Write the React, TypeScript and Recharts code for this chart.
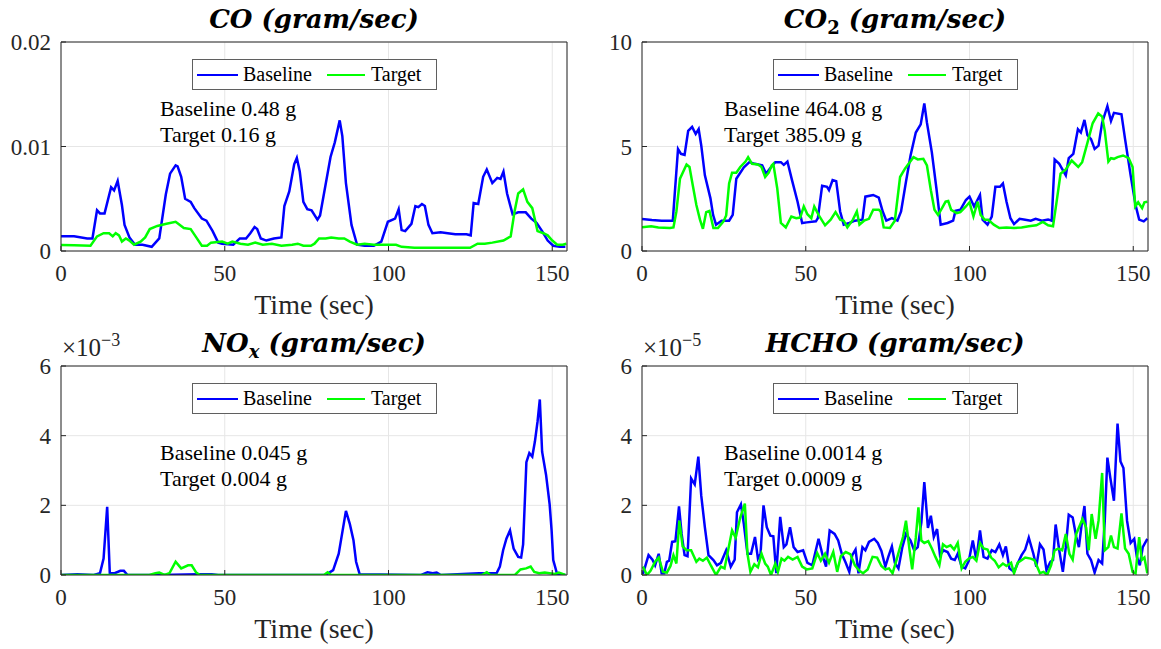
import React from 'react';
import { LineChart, Line, XAxis, YAxis, CartesianGrid, Legend } from 'recharts';

type Pt = [number, number];

// ---------- shared axis data ----------
const timeTicks = [0, 50, 100, 150];
const timeDomain: [number, number] = [0, 154.5];

const coTicks = [0, 0.01, 0.02];
const co2Ticks = [0, 5, 10];
const noxTicks = [0, 2, 4, 6]; // x 10^-3
const hchoTicks = [0, 2, 4, 6]; // x 10^-5

const seriesNames = ['Baseline', 'Target'];

// ---------- CO (gram/sec) ----------
const coBaseline: Pt[] = [
  [0, 0.0014], [4, 0.0014], [8, 0.0012], [9.6, 0.0012], [11, 0.0039], [11.9, 0.0036], [13.3, 0.0036],
  [15.3, 0.0061], [16.2, 0.0058], [17.3, 0.0067], [18.6, 0.0044], [19.4, 0.0025], [20.9, 0.0013],
  [22.6, 0.0006], [24.9, 0.0006], [27.7, 0.0004], [30, 0.0012], [32, 0.0054], [33.3, 0.0074],
  [35, 0.0082], [35.6, 0.0081], [36.7, 0.0071], [37.9, 0.005], [39.6, 0.0047], [40.7, 0.0041],
  [43, 0.0031], [44.4, 0.0029], [46.3, 0.0019], [48, 0.0008], [49.2, 0.0007], [52.6, 0.0006],
  [54.6, 0.0012], [56.5, 0.0012], [57.8, 0.0017], [59.1, 0.0023], [59.9, 0.0021], [61, 0.0012],
  [62.7, 0.001], [65, 0.0012], [67.3, 0.0013], [68.2, 0.0043], [69.7, 0.0057], [71.2, 0.0083],
  [72, 0.0089], [72.9, 0.0076], [74, 0.0047], [75.2, 0.004], [76.5, 0.0039], [78.3, 0.003],
  [79.1, 0.0034], [80.3, 0.0055], [82.3, 0.009], [83.6, 0.0104], [85.1, 0.0125], [85.9, 0.011],
  [87, 0.0065], [88.7, 0.0025], [90.4, 0.0006], [92.7, 0.0005], [95.5, 0.0005], [97.8, 0.0009],
  [99.8, 0.0028], [102, 0.0031], [103.1, 0.004], [104, 0.002], [105.1, 0.0019], [107, 0.0026],
  [108.2, 0.0043], [109.1, 0.0042], [110.2, 0.0045], [111.1, 0.0043], [112.2, 0.0025], [113.4, 0.0017],
  [115.9, 0.0018], [118.1, 0.0017], [120.4, 0.0016], [123.8, 0.0016], [125.1, 0.0015], [126, 0.0046],
  [127.4, 0.0045], [128.9, 0.0071], [130, 0.0078], [131.7, 0.0065], [133.2, 0.007], [134.2, 0.0069],
  [135.1, 0.0076], [136.2, 0.0055], [137.9, 0.0035], [139.6, 0.0037], [141.9, 0.0037], [143.6, 0.0031],
  [145.2, 0.0027], [146.9, 0.0019], [148.6, 0.001], [150.3, 0.0005], [152.3, 0.0004], [154, 0.0004],
];
const coTarget: Pt[] = [
  [0, 0.00057], [4, 0.00055], [9, 0.0005], [11, 0.0014], [13, 0.0017], [14.7, 0.0017], [15.8, 0.0014],
  [16.7, 0.0017], [17.7, 0.0015], [18.6, 0.0009], [19.8, 0.0012], [20.9, 0.001], [22.3, 0.0006],
  [24.3, 0.0009], [25.7, 0.0013], [27.1, 0.0021], [29.4, 0.0024], [32.2, 0.0026], [35, 0.0028],
  [35.8, 0.0026], [37.5, 0.0022], [39.6, 0.0021], [41.3, 0.0013], [43, 0.0005], [44.6, 0.0005],
  [45.8, 0.0008], [49.2, 0.0009], [50.9, 0.0007], [52.3, 0.0009], [54.8, 0.0007], [57.1, 0.0006],
  [59.3, 0.0008], [61.6, 0.0006], [64.4, 0.0007], [67.3, 0.0005], [70.6, 0.0006], [72.3, 0.0007],
  [74, 0.0005], [76.3, 0.0005], [77.4, 0.0007], [78.8, 0.0012], [80.8, 0.0012], [82.5, 0.0013],
  [84.8, 0.0012], [86.5, 0.0012], [88.2, 0.0009], [90.4, 0.0006], [92.7, 0.0007], [95.5, 0.0006],
  [98.9, 0.0006], [101.2, 0.0006], [102.3, 0.0006], [104, 0.0004], [107.9, 0.0003], [113.6, 0.0003],
  [119.3, 0.0003], [124.9, 0.0003], [127.2, 0.0007], [129.4, 0.0007], [131.7, 0.0008], [135.1, 0.001],
  [137.3, 0.0014], [138.5, 0.0038], [139.6, 0.0055], [141.1, 0.0059], [142.4, 0.0047], [143.9, 0.0041],
  [145.5, 0.0019], [147.3, 0.0017], [148.6, 0.0015], [150, 0.001], [151.5, 0.0006], [153.2, 0.0006],
  [154.3, 0.0007],
];

// ---------- CO2 (gram/sec) ----------
const co2Baseline: Pt[] = [
  [0, 1.53], [3, 1.48], [6, 1.45], [9.4, 1.45], [11, 4.88], [11.9, 4.65], [13, 4.6], [14.1, 5.75],
  [15.3, 5.94], [16.4, 5.6], [17.3, 5.83], [18.1, 5.04], [19.2, 3.62], [20.9, 2.52], [21.7, 1.73],
  [22.6, 1.26], [24.3, 1.45], [26.6, 1.45], [27.7, 1.73], [28.8, 3.46], [31.1, 4.0], [32.8, 4.25],
  [34.5, 4.17], [36.7, 4.1], [37.9, 3.7], [39, 3.94], [40.7, 4.25], [42.4, 4.25], [43.3, 4.12],
  [44.4, 4.28], [45.8, 3.39], [47.5, 2.36], [48.9, 1.34], [50.3, 1.37], [53.1, 1.42], [53.7, 1.57],
  [55, 3.12], [56.5, 3.07], [57.1, 2.91], [58.2, 3.39], [59.3, 3.34], [60.5, 1.89], [61.6, 1.26],
  [63.3, 1.34], [65, 1.45], [67.3, 1.5], [68.2, 2.6], [70.6, 2.68], [72.3, 2.55], [73.5, 1.89],
  [74.6, 1.45], [76.3, 1.57], [78, 1.45], [79.1, 1.89], [80.6, 3.31], [82, 4.57], [83.6, 5.67],
  [85.1, 6.06], [86.2, 7.06], [87, 6.14], [88.5, 4.72], [89.9, 2.99], [91.2, 1.26], [93.3, 1.34],
  [95, 1.45], [95.7, 1.92], [97.2, 1.97], [98.9, 2.44], [100, 2.6], [101.4, 2.13], [103.2, 2.68],
  [104, 1.5], [105.5, 1.26], [106.8, 1.65], [107.9, 3.07], [109.3, 3.07], [110.2, 3.23], [111.3, 2.36],
  [112.5, 1.57], [113.6, 1.29], [115.3, 1.54], [117, 1.5], [118.7, 1.45], [120.2, 1.54], [122.1, 1.45],
  [124, 1.51], [125.1, 1.45], [126, 4.38], [127.4, 4.17], [129.4, 3.62], [130.3, 4.44], [131.7, 4.65],
  [133.1, 5.83], [134, 5.67], [135.1, 6.27], [136, 5.54], [137.1, 5.35], [138.2, 4.88], [139.4, 5.04],
  [140.5, 6.14], [142.1, 6.93], [143.2, 6.22], [144.1, 6.61], [146.4, 6.54], [147.5, 5.35], [149.2, 3.62],
  [150.7, 2.2], [151.8, 1.5], [153.2, 1.42], [154.3, 1.57],
];
const co2Target: Pt[] = [
  [0, 1.13], [2.8, 1.18], [5, 1.13], [8.5, 1.1], [9.6, 1.13], [10.5, 1.89], [11.6, 3.46], [13.6, 4.14],
  [14.5, 4.02], [15.5, 3.15], [16.6, 2.2], [17.7, 1.5], [18.6, 1.06], [19.6, 1.86], [20.6, 1.92],
  [21.8, 1.1], [23.2, 1.1], [24.9, 1.42], [25.7, 1.7], [26.6, 3.23], [27.5, 3.75], [28.8, 3.75],
  [30, 4.02], [31.6, 4.28], [32.4, 4.49], [33.6, 4.17], [35.4, 4.14], [36.5, 4.02], [37.6, 3.54],
  [38.7, 3.75], [39.6, 4.09], [40.1, 4.17], [41.3, 2.99], [42.4, 1.34], [43.9, 1.13], [45.6, 1.65],
  [47.1, 1.57], [48.3, 1.6], [49.4, 2.13], [50.5, 1.76], [51.7, 1.57], [52.6, 2.13], [53.9, 1.73],
  [55.9, 1.23], [57.6, 1.5], [59.1, 1.86], [60.5, 1.5], [61.6, 1.45], [62.7, 1.13], [64.4, 1.5],
  [65.6, 1.89], [66.4, 1.26], [67.8, 1.45], [69.3, 1.54], [70.6, 1.97], [72.3, 1.97], [72.9, 1.89],
  [73.8, 1.13], [75.7, 1.1], [77.2, 1.45], [78.8, 3.54], [80.3, 3.94], [81.4, 4.17], [82.9, 4.49],
  [84.2, 4.38], [85.9, 4.41], [87, 4.09], [88.2, 2.91], [89.3, 1.97], [90.4, 1.73], [91.6, 2.05],
  [92.7, 2.36], [93.5, 2.39], [94.4, 1.97], [96.1, 1.81], [97.2, 1.86], [98.9, 2.13], [100, 2.33],
  [101.2, 1.65], [102.5, 2.36], [103.4, 1.73], [104.6, 1.5], [105.7, 1.5], [107.4, 1.26], [109.1, 1.1],
  [111.3, 1.13], [113.6, 1.1], [115.9, 1.13], [118.1, 1.18], [120.4, 1.23], [122.4, 1.39], [124, 1.23],
  [125.5, 1.18], [126.6, 2.36], [127.8, 3.7], [129.4, 3.9], [131.2, 4.33], [133.2, 4.02], [134.4, 4.25],
  [136, 5.17], [137.6, 6.11], [139.3, 6.58], [140.5, 6.43], [141.3, 5.75], [142.4, 4.28], [143.2, 4.44],
  [144.1, 4.41], [145.2, 4.49], [146.9, 4.57], [148.6, 4.44], [149.8, 4.02], [150.6, 2.13], [151.5, 2.33],
  [152.7, 2.05], [153.4, 2.33], [154.3, 2.36],
];

// ---------- NOx (gram/sec), in units of 1e-3 ----------
const noxBaseline: Pt[] = [
  [0, 0], [5, 0.02], [10, 0], [11.9, 0.05], [13, 0.47], [14.1, 1.96], [14.9, 0.05], [16.4, 0.05],
  [18.1, 0.12], [19.2, 0.12], [20.3, 0], [30, 0], [42, 0.02], [46, 0.02], [48, 0], [80.8, 0],
  [83.1, 0.14], [84.8, 0.61], [87, 1.84], [88.2, 1.46], [89.3, 1.0], [90.1, 0.38], [91.2, 0.02],
  [110, 0], [111.9, 0.08], [113.5, 0.05], [114.7, 0.07], [116, 0], [127.7, 0.05], [133, 0.05],
  [134, 0.24], [135, 0.71], [136, 1.04], [137.1, 1.28], [138.2, 0.76], [139.6, 0.52], [140.5, 0.5],
  [141.1, 0.88], [142.1, 3.24], [143, 3.5], [143.9, 3.4], [144.7, 3.83], [145.5, 4.4], [146.2, 5.04],
  [146.9, 3.54], [148.1, 2.88], [149.2, 2.03], [149.8, 1.28], [150.3, 0.43], [151.5, 0.02], [154, 0],
];
const noxTarget: Pt[] = [
  [0, 0], [27, 0], [28.8, 0.05], [30, 0.07], [31.6, 0], [33.1, 0.05], [35, 0.38], [36.7, 0.19],
  [38.8, 0.28], [39.9, 0.28], [41.3, 0.07], [42.4, 0], [80.3, 0], [81.4, 0.08], [82.5, 0], [128.5, 0],
  [130, 0.08], [131.1, 0], [138.6, 0], [140.3, 0.16], [142, 0.19], [143.4, 0.24], [144.5, 0.09],
  [146, 0.05], [147.7, 0.07], [149.2, 0.05], [150.9, 0.03], [152, 0.07], [154, 0],
];

// ---------- HCHO (gram/sec), in units of 1e-5 ----------
const hchoBaseline: Pt[] = [
  [0.3, 0.03], [2, 0.57], [3.2, 0.44], [4, 0.28], [5.1, 0.61], [6, 0.05], [6.8, 0.05], [7.6, 0.38],
  [8.3, 0.41], [9.2, 0.95], [10.2, 0.97], [11.3, 1.97], [12.1, 1.18], [13, 0.57], [13.9, 0.54],
  [15, 2.77], [16.1, 2.6], [17.2, 3.4], [18.1, 2.27], [19.2, 1.37], [20.3, 0.57], [21.8, 0.43],
  [22.9, 0.28], [24.1, 0.35], [25.7, 0.71], [27.1, 0.24], [28.3, 0.44], [29, 1.8], [30.2, 2.03],
  [31.1, 1.46], [32.2, 0.61], [33.3, 0.61], [34.5, 1.09], [35.4, 0.47], [36.2, 0.61], [37.1, 2.0],
  [38.1, 1.37], [39.2, 1.13], [40.1, 1.11], [41, 0.05], [42.2, 1.67], [43.3, 0.8], [44.1, 0.88],
  [45.2, 1.37], [46.3, 0.8], [47.5, 0.66], [49.2, 0.71], [50.5, 0.35], [52, 0.28], [53.9, 1.04],
  [55.4, 0.47], [56.2, 0.24], [57.3, 1.28], [58.8, 1.18], [59.9, 0.99], [61, 0.61], [62.2, 0.35],
  [63.3, 0.09], [64.2, 0.57], [65.2, 0.73], [66.1, 0.05], [67.3, 0.8], [68.2, 0.71], [69.3, 0.95],
  [70.9, 1.04], [72, 0.92], [73.1, 0.69], [74.3, 0.24], [75.2, 0.52], [76.3, 0.82], [77.2, 0.35],
  [78.3, 0.19], [79.5, 0.8], [80.6, 1.18], [82, 0.99], [83.1, 0.71], [84.2, 0.8], [85.3, 1.51],
  [86.2, 2.67], [87.3, 1.35], [88.2, 1.7], [89.1, 1.09], [90.1, 1.32], [91, 0.57], [92.1, 0.71],
  [93.3, 0.66], [94.4, 0.47], [95.5, 0.43], [96.4, 0.61], [97.6, 0.24], [98.7, 0.19], [99.8, 0.41],
  [101, 0.99], [102.1, 0.43], [103.2, 1.28], [104.3, 0.52], [105.5, 0.47], [106.8, 0.71], [107.9, 0.66],
  [109.1, 0.88], [110.2, 0.57], [111.1, 0.82], [112.2, 0.19], [113.6, 0.09], [114.7, 0.33], [115.9, 0.57],
  [117, 0.73], [118.1, 1.07], [119.5, 0.61], [120.4, 0.24], [121.5, 0.88], [122.6, 0.73], [123.5, 0.14],
  [124.7, 0.38], [125.5, 0.43], [126.3, 1.45], [127.4, 0.71], [128.5, 0.09], [129.4, 0.8], [130.3, 1.73],
  [131.5, 1.65], [132.6, 1.09], [133.4, 0.8], [134.2, 1.42], [135.1, 1.98], [136, 0.61], [137.1, 0.43],
  [138.2, 0.07], [139.4, 0.43], [140.5, 0.33], [141.3, 1.56], [142.1, 3.37], [143, 2.79], [144.1, 2.13],
  [145.2, 4.35], [146.1, 3.26], [147, 3.07], [148.1, 1.56], [149.2, 0.92], [150.3, 1.04], [151.1, 0.52],
  [152, 0.28], [152.9, 0.8], [154.3, 1.04],
];
const hchoTarget: Pt[] = [
  [0.3, 0.24], [1.5, 0], [2.6, 0.12], [4, 0.38], [5.1, 0.5], [6.4, 0.09], [7.6, 0.07], [8.7, 0.26],
  [9.6, 0.57], [10.5, 0.33], [11.4, 1.56], [12.4, 0.82], [13.6, 0.71], [15, 0.71], [16.6, 0.38],
  [17.5, 0.47], [18.6, 0.41], [19.8, 0.5], [21.1, 0.26], [22.6, 0], [24.1, 0.24], [25.2, 0.19],
  [26.3, 0.71], [27.5, 1.28], [28.6, 1.07], [30, 1.65], [31.4, 2.05], [32.2, 0.61], [33.1, 0.09],
  [34.3, 0.31], [35.4, 0.22], [36.5, 0.61], [37.6, 0.33], [38.4, 0.24], [39.4, 0], [40.7, 0.33],
  [41.5, 0.09], [42.6, 0.47], [43.5, 0.41], [44.6, 0.52], [46, 0.44], [47.5, 0.52], [48.9, 0.24],
  [50.3, 0.16], [52, 0.19], [53.5, 0.63], [54.6, 0.41], [55.9, 0.61], [57.1, 0.35], [58.4, 0.66],
  [59.6, 0.09], [60.7, 0.54], [62.2, 0.66], [63.6, 0.6], [65, 0.28], [66.4, 0.12], [67.5, 0.05],
  [68.9, 0.16], [70.4, 0.52], [71.8, 0.5], [73.1, 0.26], [74.3, 0.16], [75.4, 0.19], [76.5, 0.05],
  [77.7, 0.43], [78.8, 0.8], [79.7, 1.09], [80.6, 1.56], [81.7, 0.71], [82.5, 0.16], [83.6, 1.07],
  [84.4, 1.94], [85.3, 0.99], [86.2, 0.92], [87.4, 0.97], [88.5, 0.76], [89.6, 0.52], [90.8, 0.28],
  [91.9, 0.88], [93, 0.8], [94.2, 0.85], [95.3, 0.73], [96.4, 0.92], [97.6, 0.19], [98.7, 0.38],
  [99.8, 0.47], [101, 0.52], [102.1, 0.41], [103.2, 0.92], [104.3, 0.76], [105.5, 0.73], [106.6, 0.5],
  [107.7, 0.41], [108.9, 0.22], [110.2, 0.33], [111.3, 0.26], [112.7, 0.35], [113.6, 0.05], [114.7, 0.35],
  [116.1, 0.44], [117, 0.5], [118.7, 0.47], [119.8, 0.43], [121.5, 0.05], [122.6, 0.09], [123.7, 0],
  [124.9, 0.28], [126, 0.71], [127.1, 0.76], [128.3, 0.71], [129.4, 1.18], [130.5, 0.61], [131.5, 0.44],
  [132.6, 1.18], [134.5, 1.61], [135.6, 1.37], [136.4, 0.71], [137.3, 1.75], [138.5, 1.04], [139.4, 1.56],
  [140.5, 2.93], [141.3, 0.71], [142.4, 0.8], [143.2, 1.13], [144.1, 0.8], [145.2, 0.76], [146.4, 1.77],
  [147.5, 0.76], [148.6, 0.61], [149.8, 0.09], [150.7, 0.05], [151.8, 1.09], [152.6, 0.43], [153.4, 0.5],
  [154.3, 0.05],
];

// ---------- styling ----------
const AXIS = '#262626';
const SERIF = '"Liberation Serif", "Times New Roman", serif';
const TITLE_FONT = '"DejaVu Serif", serif';
const BLUE = '#0000ff';
const GREEN = '#00ff00';

const toRows = (pts: Pt[]) => pts.map(([t, v]) => ({ t, v }));

function LegendBox() {
  const line = (color: string, width: number, ml: number, mr: number) => (
    <span
      style={{
        display: 'inline-block',
        width,
        height: 0,
        borderTop: `2.6px solid ${color}`,
        marginLeft: ml,
        marginRight: mr,
      }}
    />
  );
  return (
    <div
      style={{
        boxSizing: 'border-box',
        width: 245,
        height: 31,
        border: '1px solid #5f5f5f',
        background: '#ffffff',
        display: 'flex',
        alignItems: 'center',
        fontFamily: SERIF,
        fontSize: 20,
        color: '#000',
        whiteSpace: 'nowrap',
      }}
    >
      {line(BLUE, 41, 4, 5)}
      <span style={{ display: 'inline-block', width: 84 }}>{seriesNames[0]}</span>
      {line(GREEN, 38, 0, 6)}
      <span>{seriesNames[1]}</span>
    </div>
  );
}

type PanelProps = {
  left: number;
  top: number;
  base: Pt[];
  target: Pt[];
  yDomain: [number, number];
  yTicks: number[];
  title: React.ReactNode;
  exponent?: string;
  notes: string[];
  noteX: number;
  noteY: number;
};

function Panel({ left, top, base, target, yDomain, yTicks, title, exponent, notes, noteX, noteY }: PanelProps) {
  const tickStyle = { fontSize: 23, fill: AXIS, fontFamily: SERIF };
  return (
    <div style={{ position: 'absolute', left, top }}>
      <LineChart width={580} height={320} margin={{ top: 41, right: 12, bottom: 0, left: 11 }}>
        <CartesianGrid stroke="#e6e6e6" strokeWidth={1} xAxisId="b" yAxisId="l" />
        <XAxis
          xAxisId="b"
          dataKey="t"
          type="number"
          domain={timeDomain}
          ticks={timeTicks}
          interval={0}
          allowDataOverflow
          height={69}
          stroke={AXIS}
          tickSize={-5}
          tickMargin={19}
          tick={tickStyle}
        />
        <XAxis
          xAxisId="t"
          orientation="top"
          dataKey="t"
          type="number"
          domain={timeDomain}
          ticks={timeTicks}
          interval={0}
          allowDataOverflow
          height={1}
          stroke={AXIS}
          tickSize={-5}
          tick={false}
        />
        <YAxis
          yAxisId="l"
          type="number"
          domain={yDomain}
          ticks={yTicks}
          interval={0}
          allowDataOverflow
          width={50}
          stroke={AXIS}
          tickSize={-5}
          tickMargin={15}
          tick={tickStyle}
          tickFormatter={(v: number) => String(v)}
        />
        <YAxis
          yAxisId="r"
          orientation="right"
          type="number"
          domain={yDomain}
          ticks={yTicks}
          interval={0}
          allowDataOverflow
          width={1}
          stroke={AXIS}
          tickSize={-5}
          tick={false}
        />
        <Legend
          layout="horizontal"
          verticalAlign="middle"
          align="center"
          wrapperStyle={{ top: 59, left: 192, width: 245, height: 31 }}
          content={() => <LegendBox />}
        />
        <Line
          xAxisId="b"
          yAxisId="l"
          data={toRows(base)}
          dataKey="v"
          name={seriesNames[0]}
          type="linear"
          stroke={BLUE}
          strokeWidth={2.5}
          dot={false}
          activeDot={false}
          isAnimationActive={false}
        />
        <Line
          xAxisId="b"
          yAxisId="l"
          data={toRows(target)}
          dataKey="v"
          name={seriesNames[1]}
          type="linear"
          stroke={GREEN}
          strokeWidth={2.5}
          dot={false}
          activeDot={false}
          isAnimationActive={false}
        />
        <text
          x={314}
          y={28}
          textAnchor="middle"
          fontFamily={TITLE_FONT}
          fontWeight="bold"
          fontStyle="italic"
          fontSize={26}
          fill="#000"
        >
          {title}
        </text>
        {exponent ? (
          <text x={62} y={32} fontFamily={SERIF} fontSize={25} fill={AXIS}>
            ×10
            <tspan dy={-10} fontSize={18}>
              {exponent}
            </tspan>
          </text>
        ) : null}
        <text x={314} y={314} textAnchor="middle" fontFamily={SERIF} fontSize={28} fill={AXIS}>
          Time (sec)
        </text>
        {notes.map((n, i) => (
          <text key={i} x={noteX} y={noteY + i * 25.5} fontFamily={SERIF} fontSize={22} fill="#000">
            {n}
          </text>
        ))}
      </LineChart>
    </div>
  );
}

export default function App() {
  return (
    <div
      style={{
        position: 'fixed',
        left: 0,
        top: 0,
        width: 1161,
        height: 649,
        background: '#ffffff',
        overflow: 'hidden',
      }}
    >
      <Panel
        left={0}
        top={0}
        base={coBaseline}
        target={coTarget}
        yDomain={[0, 0.02]}
        yTicks={coTicks}
        title={<>CO (gram/sec)</>}
        notes={['Baseline 0.48 g', 'Target 0.16 g']}
        noteX={160}
        noteY={116}
      />
      <Panel
        left={581}
        top={0}
        base={co2Baseline}
        target={co2Target}
        yDomain={[0, 10]}
        yTicks={co2Ticks}
        title={
          <>
            CO
            <tspan dy={6} fontSize={18} fontStyle="normal">
              2
            </tspan>
            <tspan dy={-6}> (gram/sec)</tspan>
          </>
        }
        notes={['Baseline 464.08 g', 'Target 385.09 g']}
        noteX={143}
        noteY={116}
      />
      <Panel
        left={0}
        top={324}
        base={noxBaseline}
        target={noxTarget}
        yDomain={[0, 6]}
        yTicks={noxTicks}
        exponent="−3"
        title={
          <>
            NO
            <tspan dy={6} fontSize={18}>
              x
            </tspan>
            <tspan dy={-6}> (gram/sec)</tspan>
          </>
        }
        notes={['Baseline 0.045 g', 'Target 0.004 g']}
        noteX={160}
        noteY={136}
      />
      <Panel
        left={581}
        top={324}
        base={hchoBaseline}
        target={hchoTarget}
        yDomain={[0, 6]}
        yTicks={hchoTicks}
        exponent="−5"
        title={<>HCHO (gram/sec)</>}
        notes={['Baseline 0.0014 g', 'Target 0.0009 g']}
        noteX={143}
        noteY={136}
      />
    </div>
  );
}
